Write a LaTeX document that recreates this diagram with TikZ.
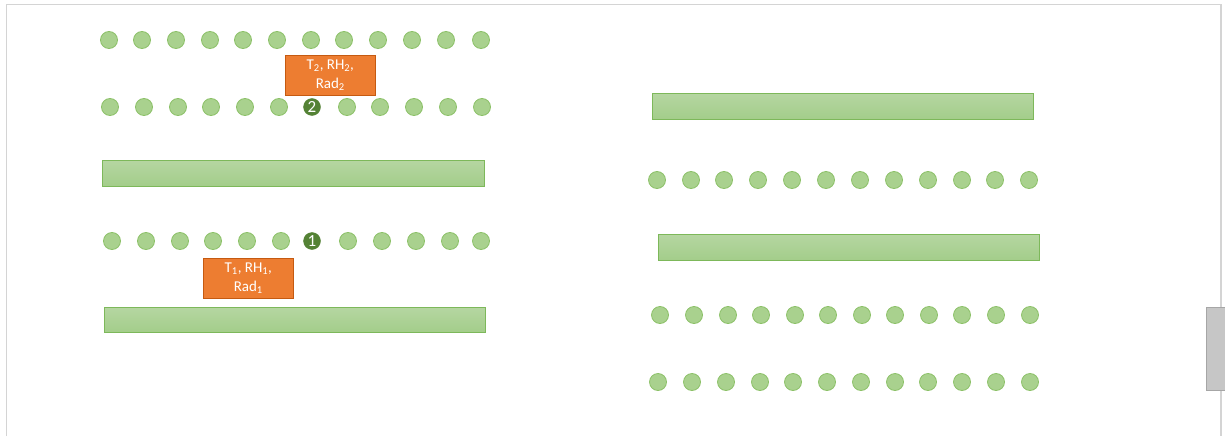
\documentclass[tikz,border=0pt]{standalone}
\usepackage{fontspec}
\setmainfont{Carlito}
\definecolor{dotfill}{HTML}{A9D18E}
\definecolor{dotline}{HTML}{8CC168}
\definecolor{bartop}{HTML}{B5D6A1}
\definecolor{barbot}{HTML}{A3CD8A}
\definecolor{barline}{HTML}{7DB85A}
\definecolor{orangefill}{HTML}{ED7D31}
\definecolor{orangeline}{HTML}{C55A11}
\definecolor{darkdot}{HTML}{548235}
\definecolor{framegray}{HTML}{D4D4D4}
\begin{document}
\begin{tikzpicture}[x=1pt,y=-1pt,
  dot/.style={circle,draw=dotline,fill=dotfill,line width=0.8pt,minimum size=17pt,inner sep=0pt},
  numdot/.style={circle,fill=darkdot,draw=darkdot,minimum size=17pt,inner sep=0pt,text=white,font=\fontsize{17}{17}\selectfont},
  bar/.style={draw=barline,line width=0.8pt,top color=bartop,bottom color=barbot,inner sep=0pt},
  label/.style={draw=orangeline,line width=0.6pt,fill=orangefill,text=white,align=center,inner sep=0pt,minimum width=90pt,minimum height=40pt,font=\fontsize{15}{19}\selectfont}]
\useasboundingbox (0,0) rectangle (1225,436);
% frame
\coordinate (f1) at (6.5,436);
\coordinate (f2) at (6.5,4.5);
\coordinate (f3) at (1221,4.5);
\coordinate (f4) at (1221,436);
\draw[framegray,line width=1.2pt] (f1) -- (f2) -- (f3) -- (f4);
\node[draw=gray!70,fill=gray!45,minimum width=19pt,minimum height=83pt,inner sep=0pt,anchor=north west] (scroll) at (1206,307) {};
% left rows
\foreach \x [count=\i] in {109,142,176,210,243,277,311,344,378,412,446,481}
  \node[dot] (a\i) at (\x,40) {};
\foreach \x [count=\i] in {110,144,178,211,245,279,347,380,414,448,482}
  \node[dot] (b\i) at (\x,107) {};
\node[numdot] (n2) at (312,107) {2};
\foreach \x [count=\i] in {112,146,180,213,247,281,348,382,416,450,481}
  \node[dot] (c\i) at (\x,241) {};
\node[numdot] (n1) at (312,241) {1};
% left bars
\node[bar,minimum width=382pt,minimum height=26pt,anchor=north west] (bar1) at (102,160) {};
\node[bar,minimum width=381pt,minimum height=25pt,anchor=north west] (bar2) at (104,307) {};
% labels
\node[label,anchor=north west] (lab2) at (285,55) {T\textsubscript{2}, RH\textsubscript{2},\\Rad\textsubscript{2}};
\node[label,anchor=north west] (lab1) at (203,258) {T\textsubscript{1}, RH\textsubscript{1},\\Rad\textsubscript{1}};
% right side
\node[bar,minimum width=381pt,minimum height=26pt,anchor=north west] (bar3) at (652,93) {};
\foreach \x [count=\i] in {657,691,724,758,792,826,860,894,928,962,995,1029}
  \node[dot] (d\i) at (\x,180) {};
\node[bar,minimum width=381pt,minimum height=26pt,anchor=north west] (bar4) at (658,234) {};
\foreach \x [count=\i] in {660,694,728,761,795,828,862,895,929,962,996,1030}
  \node[dot] (e\i) at (\x,315) {};
\foreach \x [count=\i] in {658,692,726,760,793,827,861,895,928,962,996,1030}
  \node[dot] (g\i) at (\x,382) {};
\end{tikzpicture}
\end{document}
